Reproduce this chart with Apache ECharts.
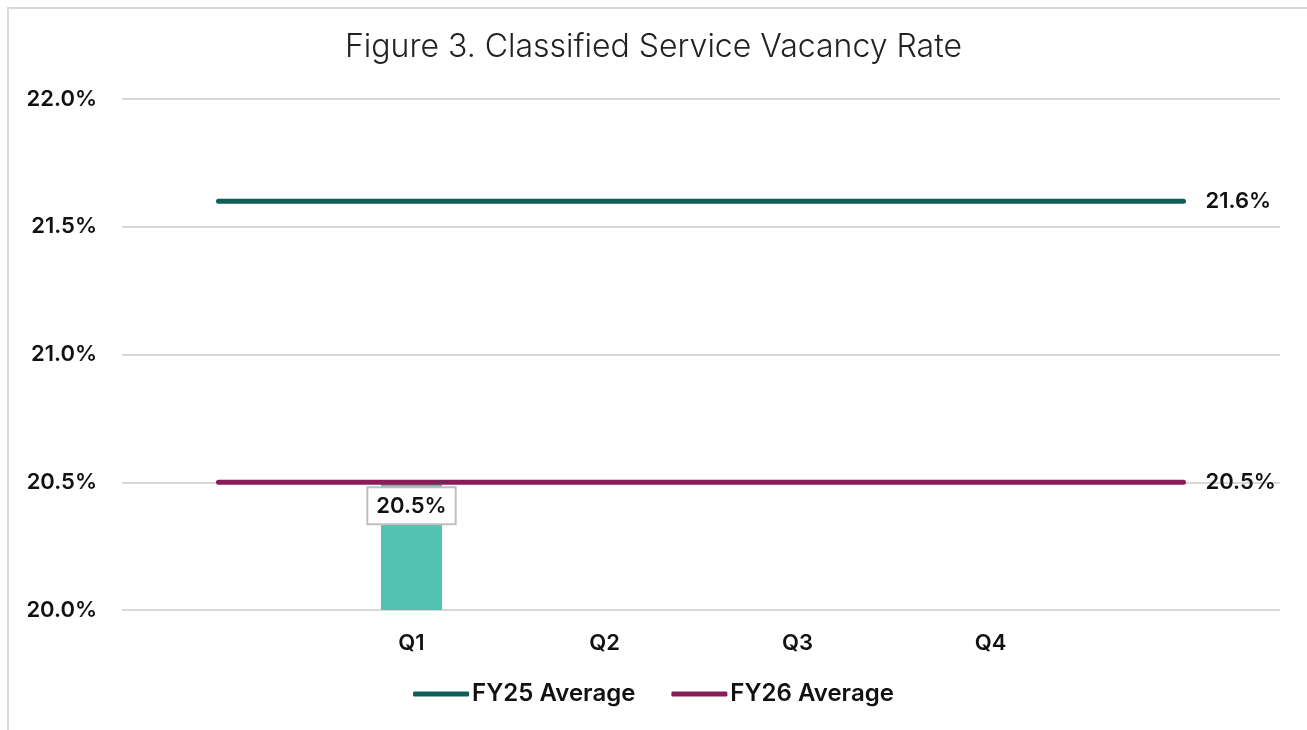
<!DOCTYPE html>
<html>
<head>
<meta charset="utf-8">
<script src="https://cdn.jsdelivr.net/npm/echarts@6/dist/echarts.min.js"></script>
<style>
  html, body { margin: 0; padding: 0; background: #fff; }
  #frame { position: absolute; left: 7px; top: 7px; width: 1300px; height: 723px;
           border-left: 2px solid #d9d9d9; border-top: 2px solid #d9d9d9; }
  #main { position: absolute; left: 0; top: 0; width: 1307px; height: 730px; }
</style>
</head>
<body>
<div id="frame"></div>
<div id="main"></div>
<script>
// 类目（两端留空，和原图一样平均线横跨整个区域）
var categories = ['', 'Q1', 'Q2', 'Q3', 'Q4', ''];
var quarterRate = [null, 20.5, null, null, null, null];
var fy25Avg = [21.6, 21.6, 21.6, 21.6, 21.6, 21.6];
var fy26Avg = [20.5, 20.5, 20.5, 20.5, 20.5, 20.5];
var yTicks = { min: 20.0, max: 22.0, step: 0.5 };

var myChart = echarts.init(document.getElementById('main'));

var txtFont = 'Inter, "Noto Sans", sans-serif';
var lblSize = 22;

function pct(v) { return v.toFixed(1) + '%'; }

option = {
    animation: false,
    title: {
        text: 'Figure 3. Classified Service Vacancy Rate',
        left: 'center',
        top: 26,
        textStyle: { fontFamily: txtFont, fontSize: 32, fontWeight: 300, color: '#222' }
    },
    legend: {
        bottom: 19,
        left: 'center',
        icon: 'roundRect',
        itemWidth: 56,
        itemHeight: 5,
        itemGap: 36,
        data: ['FY25 Average', 'FY26 Average'],
        textStyle: { fontFamily: txtFont, fontSize: 24, fontWeight: 600, color: '#111', padding: [0, 0, 0, -2] }
    },
    grid: { left: 122, right: 27, top: 99, bottom: 120 },
    xAxis: {
        type: 'category',
        data: categories,
        axisLine: { show: false },
        axisTick: { show: false },
        axisLabel: { margin: 22, fontFamily: txtFont, fontSize: lblSize, fontWeight: 600, color: '#111' }
    },
    yAxis: {
        type: 'value',
        min: yTicks.min,
        max: yTicks.max,
        interval: yTicks.step,
        axisLabel: {
            margin: 25,
            fontFamily: txtFont, fontSize: lblSize, fontWeight: 600, color: '#111',
            formatter: function (v) { return pct(v); }
        },
        splitLine: { lineStyle: { color: '#d9d9d9', width: 2 } }
    },
    series: [{
        name: 'Vacancy Rate',
        type: 'bar',
        data: quarterRate,
        barWidth: 61,
        itemStyle: { color: '#52c2b1' },
        label: {
            show: true,
            position: 'insideTop',
            distance: 6,
            formatter: function (p) { return pct(p.value); },
            fontFamily: txtFont, fontSize: lblSize, fontWeight: 600, color: '#111',
            backgroundColor: '#fff',
            borderColor: '#bfbfbf',
            borderWidth: 2,
            padding: [7, 8, 6, 8]
        },
        z: 1
    }, {
        name: 'FY25 Average',
        type: 'line',
        data: fy25Avg,
        showSymbol: false,
        lineStyle: { color: '#0f5e5c', width: 5, cap: 'round' },
        itemStyle: { color: '#0f5e5c' },
        endLabel: {
            show: true, distance: 22,
            formatter: function (p) { return pct(p.value); },
            fontFamily: txtFont, fontSize: lblSize, fontWeight: 600, color: '#111'
        },
        z: 3
    }, {
        name: 'FY26 Average',
        type: 'line',
        data: fy26Avg,
        showSymbol: false,
        lineStyle: { color: '#8b1c5a', width: 5, cap: 'round' },
        itemStyle: { color: '#8b1c5a' },
        endLabel: {
            show: true, distance: 22,
            formatter: function (p) { return pct(p.value); },
            fontFamily: txtFont, fontSize: lblSize, fontWeight: 600, color: '#111'
        },
        z: 3
    }]
};

myChart.setOption(option);
</script>
</body>
</html>
